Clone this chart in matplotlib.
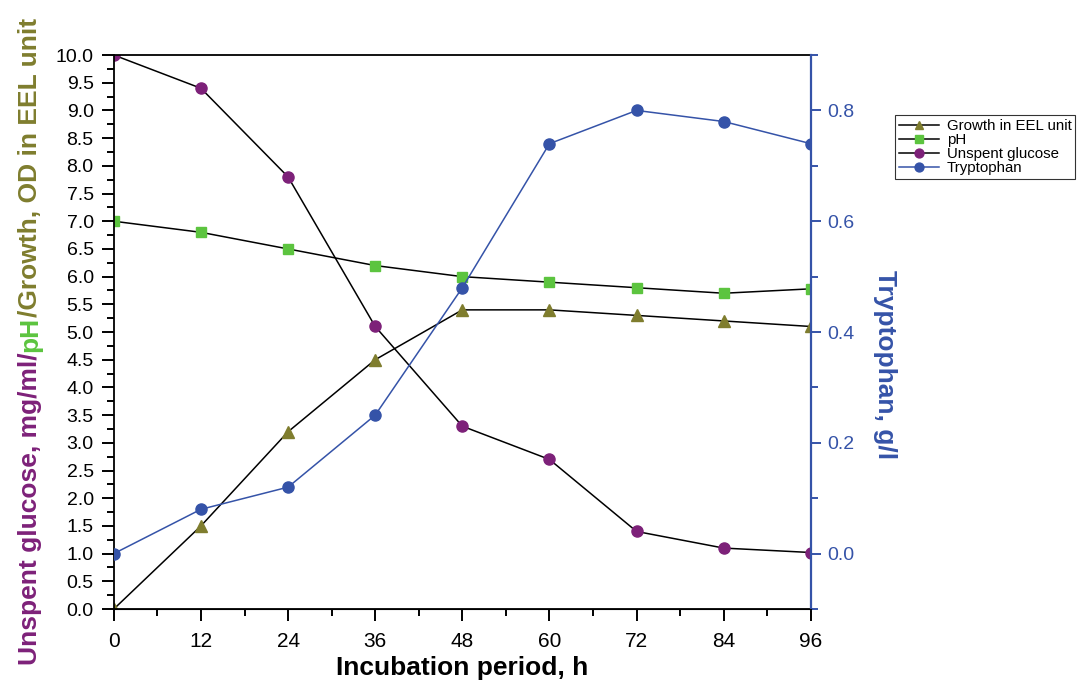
import matplotlib
matplotlib.use("Agg")
import matplotlib.pyplot as plt
from matplotlib.ticker import MultipleLocator, FormatStrFormatter

hours = [0, 12, 24, 36, 48, 60, 72, 84, 96]
growth = [0.0, 1.5, 3.2, 4.5, 5.4, 5.4, 5.3, 5.2, 5.1]
ph = [7.0, 6.8, 6.5, 6.2, 6.0, 5.9, 5.8, 5.7, 5.78]
glucose = [10.0, 9.4, 7.8, 5.1, 3.3, 2.7, 1.4, 1.1, 1.02]
tryptophan = [0.0, 0.08, 0.12, 0.25, 0.48, 0.74, 0.80, 0.78, 0.74]

OLIVE = "#7f7d2e"
GREEN = "#5cc43f"
PURPLE = "#7d2179"
BLUE = "#3553a8"

plt.rcParams["font.family"] = ["Liberation Sans", "DejaVu Sans"]

fig = plt.figure(figsize=(10.84, 6.88), dpi=100)
ax = fig.add_axes([0.105, 0.1148, 0.643, 0.8052])
ax2 = ax.twinx()

ax.plot(hours, growth, color="black", lw=1.1, marker="^", ms=8, mfc=OLIVE, mec=OLIVE,
        label="Growth in EEL unit")
ax.plot(hours, ph, color="black", lw=1.1, marker="s", ms=7, mfc=GREEN, mec=GREEN, label="pH")
ax.plot(hours, glucose, color="black", lw=1.1, marker="o", ms=8, mfc=PURPLE, mec=PURPLE,
        label="Unspent glucose")
ax2.plot(hours, tryptophan, color=BLUE, lw=1.1, marker="o", ms=8, mfc=BLUE, mec=BLUE,
         label="Tryptophan")

ax.set_xlim(0, 96)
ax.set_ylim(0, 10)
ax2.set_ylim(-0.1, 0.9)

ax.xaxis.set_major_locator(MultipleLocator(12))
ax.xaxis.set_minor_locator(MultipleLocator(6))
ax.yaxis.set_major_locator(MultipleLocator(0.5))
ax.yaxis.set_minor_locator(MultipleLocator(0.25))
ax.yaxis.set_major_formatter(FormatStrFormatter("%.1f"))
ax2.yaxis.set_major_locator(MultipleLocator(0.2))
ax2.yaxis.set_minor_locator(MultipleLocator(0.1))
ax2.yaxis.set_major_formatter(FormatStrFormatter("%.1f"))

ax.tick_params(axis="both", which="major", direction="out", length=8.5, width=1.4,
               labelsize=14, pad=6)
ax.tick_params(axis="both", which="minor", direction="out", length=5, width=1.4)
ax.tick_params(axis="x", labelsize=15, pad=8)
ax2.tick_params(axis="y", which="major", direction="out", length=7.5, width=1.4,
                labelsize=14, colors=BLUE, pad=4)
ax2.tick_params(axis="y", which="minor", direction="out", length=5, width=1.4, colors=BLUE)

for s in ["left", "bottom", "top"]:
    ax.spines[s].set_linewidth(1.3)
ax2.spines["right"].set_color(BLUE)
ax2.spines["right"].set_linewidth(1.6)
ax2.spines["left"].set_visible(False)
ax2.spines["top"].set_visible(False)
ax.spines["right"].set_visible(False)

# axis titles placed in figure coordinates
fig.text((114 + 811) / 2 / 1084, 1 - 668 / 688, "Incubation period, h", fontsize=19,
         fontweight="bold", ha="center", va="center")
fig.text(885 / 1084, 1 - 365 / 688, "Tryptophan, g/l", fontsize=19, fontweight="bold",
         color=BLUE, rotation=270, ha="center", va="center")

# legend
h1, l1 = ax.get_legend_handles_labels()
h2, l2 = ax2.get_legend_handles_labels()
leg = fig.legend(h1 + h2, l1 + l2, loc="upper left", bbox_to_anchor=(895 / 1084, 1 - 115 / 688),
                 fontsize=10.8, frameon=True, fancybox=False, edgecolor="black",
                 handlelength=2.7, handletextpad=0.5, borderpad=0.25, labelspacing=0.0,
                 markerscale=0.8, borderaxespad=0)
leg.get_frame().set_linewidth(0.8)

# multi-coloured left axis label, pieces stacked bottom to top
pieces = [("Unspent glucose, mg/ml/", PURPLE), ("pH", GREEN), ("/Growth, OD in EEL unit", OLIVE)]
fig.canvas.draw()
renderer = fig.canvas.get_renderer()
y = 688 - 665
for txt, col in pieces:
    t = fig.text(30 / 1084, y / 688, txt, rotation=90, color=col, fontsize=19,
                 fontweight="bold", ha="center", va="bottom")
    bb = t.get_window_extent(renderer)
    y = bb.y1

fig.savefig("out.png", dpi=100)
